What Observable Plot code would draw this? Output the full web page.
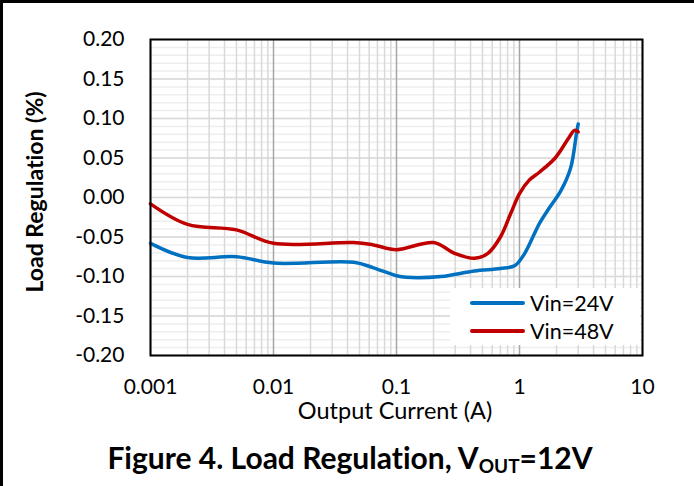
<!DOCTYPE html>
<html><head><meta charset="utf-8">
<script src="https://cdn.jsdelivr.net/npm/d3@7"></script>
<script src="https://cdn.jsdelivr.net/npm/@observablehq/plot@0.6"></script>
<style>
html,body{margin:0;padding:0;background:#fff;}
#wrap{position:relative;width:694px;height:486px;overflow:hidden;font-family:Lato,"Open Sans",sans-serif;color:#000;font-variant-ligatures:none;}
.abs{position:absolute;white-space:nowrap;}
</style></head><body><div id="wrap"></div>
<script>
// ---- data ----
const seriesNames = ["Vin=24V", "Vin=48V"];
const seriesColors = ["#0070c0", "#c00000"];
const current24 = [0.001, 0.002, 0.005, 0.01, 0.045, 0.065, 0.1, 0.12, 0.23, 0.43, 0.7, 0.92, 1.1, 1.45, 1.75, 2.16, 2.6, 2.9, 3.0];
const reg24     = [-0.058, -0.076, -0.075, -0.083, -0.082, -0.089, -0.099, -0.101, -0.100, -0.093, -0.090, -0.086, -0.071, -0.033, -0.013, 0.008, 0.037, 0.080, 0.093];
const current48 = [0.001, 0.002, 0.005, 0.01, 0.045, 0.065, 0.1, 0.2, 0.3, 0.43, 0.55, 0.7, 0.85, 1.0, 1.2, 1.45, 1.95, 2.55, 2.8, 3.0];
const reg48     = [-0.008, -0.034, -0.041, -0.058, -0.057, -0.060, -0.066, -0.057, -0.071, -0.077, -0.071, -0.050, -0.020, 0.005, 0.022, 0.032, 0.050, 0.077, 0.085, 0.083];
const xTicks = [0.001, 0.01, 0.1, 1, 10];
const xTickLabels = ["0.001", "0.01", "0.1", "1", "10"];
const yTicks = [-0.20, -0.15, -0.10, -0.05, 0.00, 0.05, 0.10, 0.15, 0.20];
const yTickLabels = ["-0.20", "-0.15", "-0.10", "-0.05", "0.00", "0.05", "0.10", "0.15", "0.20"];
const xMinor = [2,3,4,5,6,7,8,9].flatMap(m => [0.001, 0.01, 0.1, 1].map(d => m * d));
const yMinor = d3.range(-20, 21).map(i => i / 100);

const rows = [
  ...current24.map((x, i) => ({series: seriesNames[0], x, y: reg24[i]})),
  ...current48.map((x, i) => ({series: seriesNames[1], x, y: reg48[i]}))
];

const W = 694, H = 430;
const chart = Plot.plot({
  width: W, height: H,
  marginLeft: 150, marginRight: 52, marginTop: 39, marginBottom: 75,
  style: {fontFamily: "Lato, 'Open Sans', sans-serif", fontSize: "21px", color: "#000", background: "transparent"},
  x: {type: "log", domain: [0.001, 10]},
  y: {domain: [-0.2, 0.2]},
  color: {domain: seriesNames, range: seriesColors},
  marks: [
    Plot.ruleY(yMinor, {stroke: "#eeeeee", strokeWidth: 1.5}),
    Plot.ruleX(xMinor, {stroke: "#d9d9d9", strokeWidth: 1.5}),
    Plot.ruleY(yTicks, {stroke: "#d9d9d9", strokeWidth: 1.5}),
    Plot.ruleX(xTicks, {stroke: "#a6a6a6", strokeWidth: 1.5}),
    Plot.line(rows, {x: "x", y: "y", z: "series", stroke: "series", strokeWidth: 3.5, curve: "catmull-rom"}),
    Plot.frame({stroke: "#000", strokeWidth: 2}),
    Plot.axisX(xTicks, {tickSize: 0, tickPadding: 24, label: null, fontSize: 21, tickFormat: d => xTickLabels[xTicks.indexOf(d)]}),
    Plot.axisY(yTicks, {tickSize: 0, tickPadding: 26, label: null, fontSize: 21, tickFormat: d => yTickLabels[yTicks.findIndex(t => Math.abs(t - d) < 1e-9)]})
  ]
});
chart.style.position = "absolute";
chart.style.left = "0px";
chart.style.top = "0px";
const wrap = document.getElementById("wrap");
wrap.appendChild(chart);

function addDiv(html, css) {
  const d = document.createElement("div");
  d.className = "abs";
  d.innerHTML = html;
  Object.assign(d.style, css);
  wrap.appendChild(d);
  return d;
}
// axis titles
addDiv("Output Current (A)", {left: "395px", top: "410px", transform: "translate(-50%,-50%)", fontSize: "23.5px"});
addDiv("Load Regulation (%)", {left: "34px", top: "192px", transform: "translate(-50%,-50%) rotate(-90deg)", fontSize: "23px", fontWeight: "bold"});
// legend
const leg = addDiv("", {left: "450px", top: "288px", width: "190px", height: "57px", background: "#fff"});
seriesNames.forEach((n, i) => {
  const row = document.createElement("div");
  Object.assign(row.style, {position: "absolute", left: "20px", top: (3 + i * 28) + "px", height: "24px", display: "flex", alignItems: "center", fontSize: "21.5px"});
  row.innerHTML = `<span style="display:inline-block;width:55px;height:4px;border-radius:2px;background:${seriesColors[i]};margin-right:5px"></span>${n}`;
  leg.appendChild(row);
});
// figure title
addDiv('Figure 4. Load Regulation, V<span style="font-size:19px;position:relative;top:4px">OUT</span>=12V',
  {left: "350px", top: "457px", transform: "translate(-50%,-50%)", fontSize: "30px", fontWeight: "bold"});
// outer border (top and left)
addDiv("", {left: "0px", top: "0px", width: "694px", height: "3px", background: "#000"});
addDiv("", {left: "0px", top: "0px", width: "3px", height: "486px", background: "#000"});
</script></body></html>
